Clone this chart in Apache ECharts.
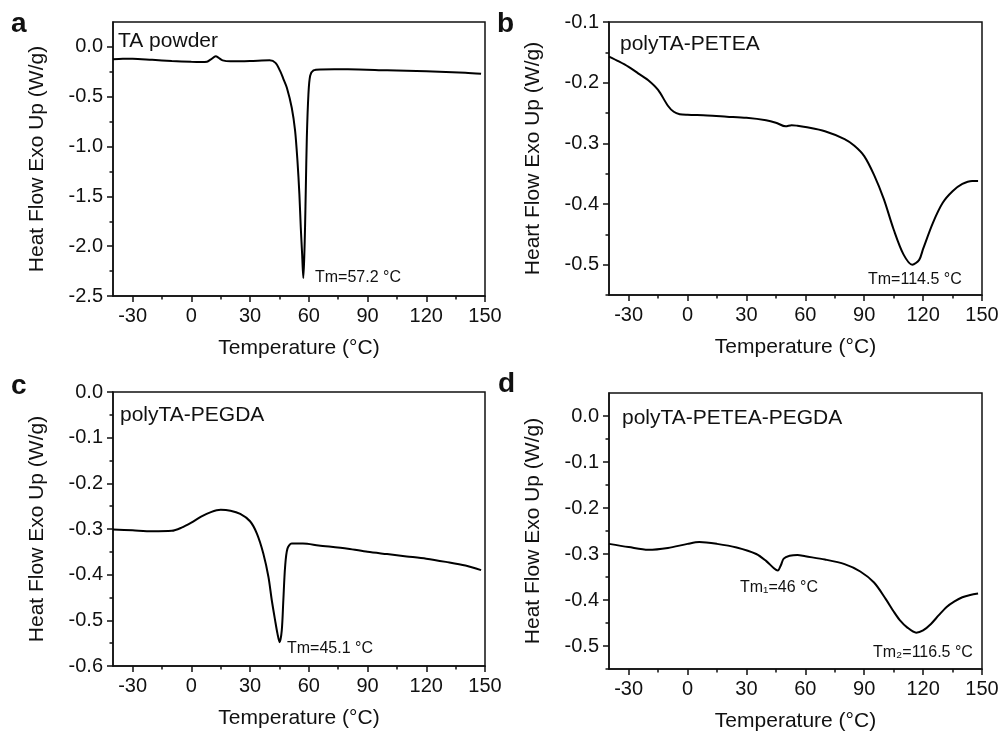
<!DOCTYPE html>
<html>
<head>
<meta charset="utf-8">
<script src="https://cdn.jsdelivr.net/npm/echarts@6/dist/echarts.min.js"></script>
<style>html,body{margin:0;padding:0;background:#fff}#c{width:1004px;height:733px}</style>
</head>
<body>
<div id="c"></div>
<script>
// ---- data ----
const tempA = [-40,-35,-30,-20,-10,0,5,8,10,12.5,14,16,20,30,40,43,45.4,47,48.8,51.3,53,54.2,55.2,55.9,56.6,57.2,57.7,58.1,58.5,59,59.8,60.7,62.4,66,80,100,120,140,148];
const heatA = [-0.125,-0.12,-0.118,-0.13,-0.142,-0.15,-0.152,-0.148,-0.125,-0.095,-0.11,-0.135,-0.145,-0.142,-0.135,-0.16,-0.243,-0.32,-0.41,-0.61,-0.84,-1.14,-1.48,-1.81,-2.08,-2.32,-2.1,-1.8,-1.4,-0.91,-0.48,-0.29,-0.236,-0.226,-0.225,-0.235,-0.245,-0.26,-0.27];

const tempB = [-40,-35,-30,-25,-20,-15,-10,-7,-4,0,10,20,30,40,45,50,53,56,60,70,80,85,90,95,100,105,110,114.5,118,120,125,130,135,140,145,148];
const heatB = [-0.157,-0.165,-0.174,-0.185,-0.196,-0.212,-0.238,-0.248,-0.252,-0.253,-0.254,-0.256,-0.258,-0.262,-0.266,-0.272,-0.27,-0.271,-0.273,-0.28,-0.293,-0.304,-0.321,-0.352,-0.392,-0.442,-0.483,-0.5,-0.492,-0.474,-0.431,-0.398,-0.379,-0.367,-0.362,-0.362];

const tempC = [-40,-30,-20,-10,-5,0,5,10,15,20,25,30,33.5,36.8,39.4,41.1,42.8,44,45.1,46.2,47,47.9,49.1,51.3,57,65,80,90,100,110,120,130,140,148];
const heatC = [-0.301,-0.303,-0.305,-0.304,-0.297,-0.286,-0.273,-0.263,-0.258,-0.26,-0.267,-0.283,-0.31,-0.354,-0.405,-0.456,-0.5,-0.529,-0.548,-0.522,-0.456,-0.383,-0.343,-0.332,-0.332,-0.336,-0.343,-0.35,-0.355,-0.36,-0.365,-0.372,-0.38,-0.39];

const tempD = [-40,-30,-20,-10,0,6,15,25,35,40,44,46,47.5,49,52,56,60,70,80,88,95,101,105,108,112,116.5,120,124,128,132,136,140,144,148];
const heatD = [-0.278,-0.285,-0.291,-0.287,-0.278,-0.274,-0.278,-0.286,-0.3,-0.315,-0.331,-0.336,-0.325,-0.31,-0.304,-0.302,-0.305,-0.312,-0.322,-0.338,-0.362,-0.398,-0.425,-0.443,-0.46,-0.471,-0.466,-0.452,-0.433,-0.415,-0.403,-0.394,-0.389,-0.386];

// tick labels
const xMajor = [-30,0,30,60,90,120,150];
const xMinor = [-30,-15,0,15,30,45,60,75,90,105,120,135,150];
const yMajorA = [-2.5,-2.0,-1.5,-1.0,-0.5,0.0];
const yMinorA = [-2.5,-2.25,-2.0,-1.75,-1.5,-1.25,-1.0,-0.75,-0.5,-0.25,0.0];
const yMajorB = [-0.5,-0.4,-0.3,-0.2,-0.1];
const yMinorB = [-0.55,-0.5,-0.45,-0.4,-0.35,-0.3,-0.25,-0.2,-0.15,-0.1];
const yMajorC = [-0.6,-0.5,-0.4,-0.3,-0.2,-0.1,0.0];
const yMinorC = [-0.6,-0.55,-0.5,-0.45,-0.4,-0.35,-0.3,-0.25,-0.2,-0.15,-0.1,-0.05,0.0];
const yMajorD = [-0.5,-0.4,-0.3,-0.2,-0.1,0.0];
const yMinorD = [-0.55,-0.5,-0.45,-0.4,-0.35,-0.3,-0.25,-0.2,-0.15,-0.1,-0.05,0.0];

const panels = [
  {t: tempA, h: heatA, yMin: -2.5, yMax: 0.25, yMaj: yMajorA, yMin2: yMinorA, yName: 'Heat Flow Exo Up (W/g)',
   grid: {left: 113, top: 22, width: 372, height: 274}},
  {t: tempB, h: heatB, yMin: -0.55, yMax: -0.1, yMaj: yMajorB, yMin2: yMinorB, yName: 'Heart Flow Exo Up (W/g)',
   grid: {left: 609, top: 22, width: 373, height: 273}},
  {t: tempC, h: heatC, yMin: -0.6, yMax: 0.0, yMaj: yMajorC, yMin2: yMinorC, yName: 'Heat Flow Exo Up (W/g)',
   grid: {left: 113, top: 392, width: 372, height: 274}},
  {t: tempD, h: heatD, yMin: -0.55, yMax: 0.05, yMaj: yMajorD, yMin2: yMinorD, yName: 'Heat Flow Exo Up (W/g)',
   grid: {left: 609, top: 393, width: 373, height: 276}}
];

const FONT = '"Liberation Sans", Arial, sans-serif';
const INK = '#111';

const grids = [], xAxes = [], yAxes = [], series = [];
panels.forEach((p, i) => {
  grids.push(Object.assign({show: true, borderColor: INK, borderWidth: 1.5, backgroundColor: 'transparent'}, p.grid));
  xAxes.push({
    type: 'value', gridIndex: i, min: -40, max: 150, position: 'bottom',
    name: 'Temperature (\u00B0C)', nameLocation: 'middle', nameGap: 42,
    nameTextStyle: {fontFamily: FONT, fontSize: 21, color: INK},
    axisLine: {show: true, onZero: false, lineStyle: {color: INK, width: 1.5}},
    axisTick: {show: true, inside: false, length: 6, customValues: xMajor, lineStyle: {color: INK, width: 1.5}},
    axisLabel: {show: true, margin: 10, customValues: xMajor, fontFamily: FONT, fontSize: 20, color: INK},
    splitLine: {show: false}
  });
  xAxes.push({
    type: 'value', gridIndex: i, min: -40, max: 150, position: 'bottom',
    axisLine: {show: false, onZero: false},
    axisTick: {show: true, inside: false, length: 3.5, customValues: xMinor, lineStyle: {color: INK, width: 1.5}},
    axisLabel: {show: false}, splitLine: {show: false}
  });
  yAxes.push({
    type: 'value', gridIndex: i, min: p.yMin, max: p.yMax, position: 'left',
    name: p.yName, nameLocation: 'middle', nameGap: 65, nameRotate: 90,
    nameTextStyle: {fontFamily: FONT, fontSize: 21, color: INK},
    axisLine: {show: true, onZero: false, lineStyle: {color: INK, width: 1.5}},
    axisTick: {show: true, inside: false, length: 6, customValues: p.yMaj, lineStyle: {color: INK, width: 1.5}},
    axisLabel: {show: true, margin: 10, customValues: p.yMaj, fontFamily: FONT, fontSize: 20, color: INK,
      formatter: v => v.toFixed(1)},
    splitLine: {show: false}
  });
  yAxes.push({
    type: 'value', gridIndex: i, min: p.yMin, max: p.yMax, position: 'left',
    axisLine: {show: false, onZero: false},
    axisTick: {show: true, inside: false, length: 3.5, customValues: p.yMin2, lineStyle: {color: INK, width: 1.5}},
    axisLabel: {show: false}, splitLine: {show: false}
  });
  series.push({
    type: 'line', xAxisIndex: 2 * i, yAxisIndex: 2 * i,
    data: p.t.map((x, k) => [x, p.h[k]]),
    showSymbol: false, symbol: 'none', smooth: 0.3,
    lineStyle: {color: '#000', width: 2}, silent: true
  });
});

function txt(x, y, s, size, bold) {
  return {type: 'text', x: x, y: y, silent: true,
    style: {text: s, fontFamily: FONT, fontSize: size, fontWeight: bold ? 'bold' : 'normal',
      fill: INK, verticalAlign: 'middle', align: 'left'}};
}

const graphics = [
  txt(11, 24, 'a', 28, true),
  txt(497, 24, 'b', 28, true),
  txt(11, 386, 'c', 28, true),
  txt(498, 384, 'd', 28, true),
  txt(118, 41, 'TA powder', 21),
  txt(315, 278, 'Tm=57.2 \u00B0C', 16),
  txt(620, 44, 'polyTA-PETEA', 21),
  txt(868, 280, 'Tm=114.5 \u00B0C', 16),
  txt(120, 415, 'polyTA-PEGDA', 21),
  txt(287, 649, 'Tm=45.1 \u00B0C', 16),
  txt(622, 418, 'polyTA-PETEA-PEGDA', 21),
  txt(740, 588, 'Tm\u2081=46 \u00B0C', 16),
  txt(873, 653, 'Tm\u2082=116.5 \u00B0C', 16)
];

const chart = echarts.init(document.getElementById('c'), null, {renderer: 'canvas'});
chart.setOption({
  animation: false,
  backgroundColor: '#fff',
  grid: grids, xAxis: xAxes, yAxis: yAxes, series: series,
  graphic: graphics
});
</script>
</body>
</html>
